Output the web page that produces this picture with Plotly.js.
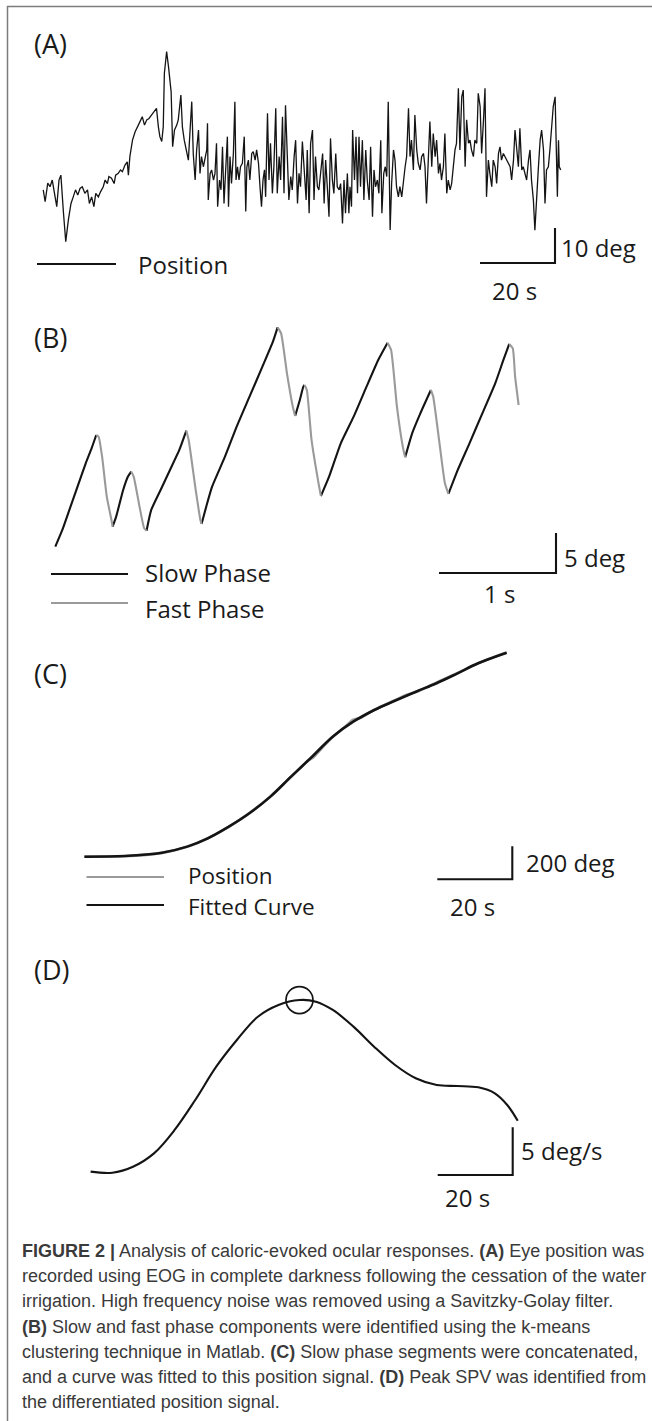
<!DOCTYPE html>
<html>
<head>
<meta charset="utf-8">
<script src="https://cdn.plot.ly/plotly-3.0.1.min.js"></script>
<style>
html,body{margin:0;padding:0;background:#fff;}
#chart{width:652px;height:1421px;}
</style>
</head>
<body>
<div id="chart"></div>
<script>
// ---------- DATA ----------
// (A) EOG eye position, time (s) and position (deg)
const tA = [-0.2,0.3,1.0,1.6,2.2,2.8,3.4,4.0,4.5,5.2,5.8,6.5,7.2,7.8,8.4,9.0,9.6,10.2,10.9,11.6,12.1,12.7,13.3,13.8,14.5,15.1,15.8,16.3,16.9,17.3,18.0,18.7,19.1,19.8,20.4,20.9,21.6,22.2,22.5,22.9,23.6,24.3,25.0,25.6,26.2,26.8,27.4,28.0,28.7,29.4,30.0,30.5,30.9,31.4,31.8,32.1,32.7,33.2,33.6,33.9,34.3,34.8,35.4,35.8,36.5,36.9,37.4,38.0,38.5,38.9,39.4,39.8,40.3,40.7,41.2,41.6,42.0,42.5,42.9,43.4,43.6,43.8,44.3,44.7,45.2,45.6,46.0,46.3,46.8,47.2,47.6,48.0,48.4,48.9,49.2,49.6,50.0,50.5,50.9,51.2,51.6,52.0,52.4,52.9,53.4,53.8,54.1,54.5,54.9,55.4,55.8,56.3,56.7,57.2,57.6,58.0,58.4,58.8,59.1,59.6,60.0,60.4,60.9,61.3,61.8,62.2,62.7,63.1,63.6,64.0,64.4,64.9,65.3,65.8,66.2,66.7,67.1,67.6,68.0,68.4,68.9,
  69.9,70.2,70.7,71.1,71.6,72.0,72.4,72.9,73.3,73.8,74.3,74.7,75.1,75.6,76.0,76.4,76.9,77.3,77.8,78.2,78.7,79.1,79.6,80.0,80.4,80.9,81.3,81.6,82.0,82.3,82.8,83.2,83.6,84.0,84.4,84.9,85.3,85.8,86.2,86.7,87.1,87.6,88.0,88.4,88.9,89.3,89.8,90.1,90.6,91.0,91.4,91.8,92.3,92.7,93.2,93.6,94.0,94.5,94.9,95.4,95.8,96.3,96.7,97.2,97.6,98.0,98.5,98.9,99.4,99.8,100.3,100.7,101.2,101.6,102.0,102.5,102.9,103.4,103.8,104.3,104.7,105.2,105.6,106.0,106.5,106.9,107.4,107.8,108.3,108.7,109.2,109.6,110.0,110.5,110.9,111.4,111.8,112.3,112.7,113.2,113.6,114.0,114.5,114.9,115.4,115.8,116.3,116.7,117.2,117.6,118.0,118.5,118.9,119.4,119.8,120.3,120.7,121.2,121.6,122.0,122.5,122.9,123.4,123.8,124.3,124.7,125.2,125.6,126.0,126.5,126.9,127.4,127.8,128.3,128.7,129.2,129.6,130.0,130.5,130.9,131.4,131.8,132.3,132.7,133.2,133.6,134.0,134.5,134.9,135.4,135.8,136.3,136.7,136.9,137.2,137.4,137.8];
const posA = [20.9,17.5,22.8,21.8,23.7,19.9,16.1,23.7,25.1,14.2,6.1,12.3,17.0,18.9,20.9,19.4,21.3,21.8,19.9,20.9,17.0,18.9,16.1,19.9,18.9,20.4,21.8,23.7,22.7,24.7,24.2,22.7,25.1,25.6,26.6,26.1,28.0,28.9,25.1,30.4,35.1,37.5,38.9,40.4,41.8,39.4,40.9,41.3,42.3,43.2,44.2,38.9,36.1,34.7,38.9,54.2,60.4,56.1,51.8,48.9,33.2,38.0,39.4,40.9,48.0,38.9,35.1,32.3,29.4,37.0,46.1,31.3,23.7,32.3,38.0,25.6,30.4,27.5,29.4,32.3,39.9,18.0,25.6,26.6,23.7,25.6,34.2,16.1,23.7,20.9,33.2,17.0,25.6,36.1,16.1,30.4,22.7,31.3,46.1,23.7,27.5,23.7,27.5,28.5,36.1,14.7,27.5,29.4,23.7,31.3,31.8,29.4,32.3,28.5,21.8,16.1,23.7,26.6,18.9,42.8,23.7,34.2,19.9,27.5,44.2,19.9,30.4,23.7,41.8,19.9,45.1,27.5,18.0,24.7,20.9,30.4,35.1,17.0,25.6,21.8,34.7,
  18.0,32.3,14.2,34.2,38.0,18.0,30.4,21.8,20.9,25.6,31.3,17.0,29.4,20.9,13.2,35.6,23.7,19.9,31.3,21.8,20.9,22.7,11.3,23.7,14.2,25.6,14.2,21.8,16.1,38.0,23.7,36.1,19.9,36.1,21.8,35.1,18.0,32.3,23.7,18.0,33.2,13.2,26.6,21.8,23.7,19.9,35.1,14.2,25.6,27.5,24.7,46.1,9.4,22.7,32.3,29.4,21.8,18.9,21.8,18.9,23.7,27.5,30.4,44.2,30.4,35.1,26.6,42.3,32.3,28.5,26.6,30.4,31.3,27.5,17.0,29.4,40.4,27.5,37.0,30.4,35.1,25.6,28.5,23.7,27.5,37.0,19.9,23.7,20.9,22.7,27.5,32.3,34.2,49.9,32.3,47.5,49.4,27.5,40.9,34.2,35.1,32.3,30.4,35.1,34.2,48.5,44.7,31.3,40.9,49.9,18.9,29.4,25.6,21.8,29.4,27.5,22.7,31.3,33.2,29.4,31.3,30.4,29.4,28.5,27.5,23.7,29.4,38.0,32.3,27.5,38.5,26.6,27.5,25.6,23.7,29.4,32.3,23.7,18.0,9.4,20.9,26.6,35.1,38.0,32.3,17.0,26.6,27.5,32.3,39.9,44.7,47.5,33.2,18.9,35.1,27.5,26.6];

// (B) slow / fast phase components, time (s) and position (deg)
const tB = [0.00,0.06,0.11,0.19,0.26,0.31,0.35,0.37,0.40,0.44,0.48,0.49,0.52,0.58,0.62,0.65,0.67,0.72,0.76,0.78,0.82,0.90,0.98,1.06,1.12,1.14,1.20,1.24,1.25,1.29,1.34,1.45,1.55,1.66,1.77,1.86,1.90,1.93,1.98,2.03,2.05,2.09,2.12,2.13,2.15,2.19,2.25,2.27,2.34,2.44,2.55,2.66,2.76,2.84,2.87,2.92,2.97,2.99,3.05,3.12,3.21,3.23,3.28,3.33,3.36,3.44,3.54,3.65,3.76,3.83,3.88,3.91,3.93,3.96];
const posB = [3.29,5.38,7.46,10.79,13.71,15.58,17.25,17.04,14.54,9.54,6.63,5.79,7.04,10.38,12.04,12.67,12.04,8.29,5.58,5.29,7.88,10.38,12.88,15.38,17.79,16.63,10.38,6.63,6.13,8.29,10.79,14.54,18.29,22.04,25.79,28.92,30.71,29.96,24.96,20.79,19.63,21.63,23.29,23.50,22.88,16.63,11.21,9.63,12.04,16.21,19.54,23.29,26.63,28.79,27.88,20.79,15.79,14.46,17.46,19.96,22.88,22.04,16.63,11.21,9.88,12.88,16.21,19.96,23.71,26.63,28.63,28.08,24.54,21.00];
const fastStart = [0.35,0.65,1.12,1.90,2.13,2.84,3.21,3.88];
const fastEnd   = [0.49,0.78,1.25,2.05,2.27,2.99,3.36,3.96];

// (C) concatenated slow-phase position and fitted curve, time (s), position (deg)
const tCpos = [0,10.7,20.7,27.4,32.9,38.5,44.0,49.6,55.1,59.5,61.2,62.3,66.2,69.5,71.7,73.5,77.3,82.8,86.0,88.4,93.9,96.0,99.5,105.0,112.6];
const posC  = [138,140,160,197,249,318,401,502,620,715,742,770,862,924,967,977,1027,1085,1118,1135,1192,1214,1250,1309,1374];
const tCfit = [0,10.7,20.7,27.4,32.9,38.5,44.0,49.6,55.1,60.7,66.2,71.7,77.3,82.8,88.4,93.9,99.5,105.0,112.6];
const fitC  = [137,141,161,198,248,319,400,501,622,743,864,955,1026,1082,1137,1188,1248,1309,1373];

// (D) slow phase velocity, time (s), velocity (deg/s)
const tD = [0,5.8,11.3,16.9,22.4,27.9,33.5,39.0,44.6,50.1,55.7,60.1,64.6,70.1,75.6,81.2,86.7,92.3,97.8,103.4,107.8,111.1,113.9];
const spvD = [0.35,0.24,0.87,2.27,4.72,7.86,11.35,14.15,16.59,17.82,18.34,18.17,17.30,15.55,13.45,11.53,10.14,9.43,9.33,9.19,8.56,7.34,5.69];

// scale bars and text
const panelLabels = ['(A)','(B)','(C)','(D)'];
const scaleT = [20, 1, 20, 20];
const scaleV = [10, 5, 200, 5];
const scaleTLabel = ['20 s','1 s','20 s','20 s'];
const scaleVLabel = ['10 deg','5 deg','200 deg','5 deg/s'];
const legendA = ['Position'];
const legendB = ['Slow Phase','Fast Phase'];
const legendC = ['Position','Fitted Curve'];
const captionLines = [
  '<b>FIGURE 2 |</b> Analysis of caloric-evoked ocular responses. <b>(A)</b> Eye position was',
  'recorded using EOG in complete darkness following the cessation of the water',
  'irrigation. High frequency noise was removed using a Savitzky-Golay filter.',
  '<b>(B)</b> Slow and fast phase components were identified using the k-means',
  'clustering technique in Matlab. <b>(C)</b> Slow phase segments were concatenated,',
  'and a curve was fitted to this position signal. <b>(D)</b> Peak SPV was identified from',
  'the differentiated position signal.'
];

// ---------- LAYOUT GEOMETRY ----------
const W = 652, H = 1421;
const pxX = v => v / W;
const pxY = v => 1 - v / H;
const FONT = '"Open Sans", "Noto Sans", sans-serif';
const BLACK = '#141414', GRAY = '#9a9a9a';

// pixel geometry of each panel: origin pixel and pixels per unit
const geo = [
  {top:0,   bot:300,  x0:44,   kx:75/20, y0:263,   ky:3.5,     corner:[555,263]},
  {top:300, bot:620,  x0:55.3, kx:117,   y0:573,   ky:8,       corner:[556,573]},
  {top:620, bot:930,  x0:84.4, kx:75/20, y0:879.3, ky:33/200,  corner:[512.3,879.3]},
  {top:930, bot:1225, x0:90.6, kx:75/20, y0:1175,  ky:47.7/5,  corner:[512.7,1175]}
];

const layout = {
  width: W, height: H, autosize: false,
  margin: {l:0, r:0, t:0, b:0, pad:0},
  paper_bgcolor: '#fff', plot_bgcolor: 'rgba(0,0,0,0)',
  showlegend: false,
  shapes: [], annotations: []
};
geo.forEach((g, i) => {
  const s = i === 0 ? '' : String(i + 1);
  layout['xaxis' + s] = {domain:[0,1], range:[(0 - g.x0)/g.kx, (W - g.x0)/g.kx], visible:false, anchor:'y'+s};
  layout['yaxis' + s] = {domain:[1 - g.bot/H, 1 - g.top/H], range:[(g.y0 - g.bot)/g.ky, (g.y0 - g.top)/g.ky], visible:false, anchor:'x'+s};
});

const traces = [];
const line = (x, y, ax, color, width, shape, smoothing) => ({
  type:'scatter', mode:'lines', x, y, xaxis:'x'+ax, yaxis:'y'+ax,
  line:{color, width, shape: shape || 'linear', smoothing: smoothing || 1},
  hoverinfo:'skip', showlegend:false
});

// (A)
traces.push(line(tA, posA, '', BLACK, 1.3));

// (B) split into slow (black) and fast (gray) segments
const bx=[], by=[], gx=[], gy=[];
let lastB = -2, lastG = -2;
for (let i = 0; i < tB.length - 1; i++) {
  const fast = fastStart.some((a, k) => tB[i] >= a && tB[i+1] <= fastEnd[k]);
  const X = fast ? gx : bx, Y = fast ? gy : by;
  const last = fast ? lastG : lastB;
  if (last !== i) {
    if (X.length) { X.push(null); Y.push(null); }
    X.push(tB[i]); Y.push(posB[i]);
  }
  X.push(tB[i+1]); Y.push(posB[i+1]);
  if (fast) lastG = i + 1; else lastB = i + 1;
}
traces.push(line(bx, by, '2', BLACK, 2.1, 'spline', 0.5));
traces.push(line(gx, gy, '2', GRAY, 2.1, 'spline', 0.5));

// (C)
traces.push(line(tCpos, posC, '3', GRAY, 2.6, 'spline', 0.8));
traces.push(line(tCfit, fitC, '3', BLACK, 2.6, 'spline', 1));

// (D)
traces.push(line(tD, spvD, '4', BLACK, 2.1, 'spline', 1));
const iPk = spvD.indexOf(Math.max(...spvD));
traces.push({type:'scatter', mode:'markers', x:[tD[iPk]], y:[spvD[iPk]], xaxis:'x4', yaxis:'y4',
  marker:{symbol:'circle-open', size:27, color:BLACK, line:{width:1.7, color:BLACK}}, hoverinfo:'skip', showlegend:false});

// scale bars (in data units of each panel)
const labelFont = {family:FONT, size:24, color:'#1a1a1a'};
const hShift = [[-3,-27],[2,-20],[-2,-27],[-8,-22]];
const vShift = [[4,-2],[6,-4],[12,0],[6,1]];
geo.forEach((g, i) => {
  const s = i === 0 ? '' : String(i + 1);
  const cT = (g.corner[0] - g.x0) / g.kx;
  const cV = (g.y0 - g.corner[1]) / g.ky;
  traces.push(line([cT - scaleT[i], cT, cT], [cV, cV, cV + scaleV[i]], s, BLACK, 2.1));
  layout.annotations.push({xref:'x'+s, yref:'y'+s, x:cT - scaleT[i]/2, y:cV, xshift:hShift[i][0], yshift:hShift[i][1],
    xanchor:'center', yanchor:'middle', showarrow:false, text:scaleTLabel[i], font:labelFont});
  layout.annotations.push({xref:'x'+s, yref:'y'+s, x:cT, y:cV + scaleV[i]/2, xshift:vShift[i][0], yshift:vShift[i][1],
    xanchor:'left', yanchor:'middle', showarrow:false, text:scaleVLabel[i], font:labelFont});
});

// panel labels
const labelPos = [43, 337, 673, 969];
panelLabels.forEach((t, i) => layout.annotations.push({xref:'paper', yref:'paper', x:pxX(32), y:pxY(labelPos[i]),
  xanchor:'left', yanchor:'middle', showarrow:false, text:t, font:{family:FONT, size:27, color:'#1a1a1a'}}));

// legends (key lines + text)
const legendItems = [
  {x0:37, x1:116, y:264, color:BLACK, tx:136, ty:265, text:legendA[0], size:24},
  {x0:51, x1:128, y:574, color:BLACK, tx:143, ty:572, text:legendB[0], size:24},
  {x0:51, x1:128, y:603, color:GRAY,  tx:143, ty:608, text:legendB[1], size:24},
  {x0:86.5, x1:164, y:877, color:GRAY,  tx:186, ty:875.5, text:legendC[0], size:22.5},
  {x0:86.5, x1:164, y:905, color:BLACK, tx:186, ty:906.5, text:legendC[1], size:22.5}
];
legendItems.forEach(it => {
  layout.shapes.push({type:'line', xref:'paper', yref:'paper', x0:pxX(it.x0), x1:pxX(it.x1), y0:pxY(it.y), y1:pxY(it.y),
    line:{color:it.color, width:2.2}});
  layout.annotations.push({xref:'paper', yref:'paper', x:pxX(it.tx), y:pxY(it.ty), xanchor:'left', yanchor:'middle',
    showarrow:false, text:it.text, font:{family:FONT, size:it.size, color:'#1a1a1a'}});
});

// frame lines (top and left)
layout.shapes.push({type:'line', xref:'paper', yref:'paper', x0:pxX(7), x1:1, y0:pxY(6.5), y1:pxY(6.5), line:{color:'#7c7c7c', width:1.5}});
layout.shapes.push({type:'line', xref:'paper', yref:'paper', x0:pxX(7.5), x1:pxX(7.5), y0:pxY(6), y1:0, line:{color:'#7c7c7c', width:1.5}});

// caption, one annotation per line
captionLines.forEach((t, i) => layout.annotations.push({xref:'paper', yref:'paper', x:pxX(20), y:pxY(1251 + i*25.2),
  xanchor:'left', yanchor:'middle', align:'left', showarrow:false, text:t,
  font:{family:'"Liberation Sans", Arial, sans-serif', size:18, color:'#3a3a3a'}}));

Plotly.newPlot('chart', traces, layout, {staticPlot:true, displayModeBar:false});
</script>
</body>
</html>
